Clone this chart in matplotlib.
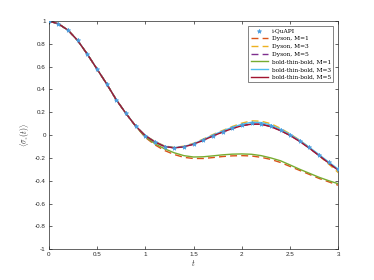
import matplotlib
matplotlib.use("Agg")
import matplotlib.pyplot as plt
import numpy as np

t = [0.0, 0.1, 0.2, 0.3, 0.4, 0.5, 0.6, 0.7, 0.8, 0.9, 1.0, 1.1, 1.2, 1.3, 1.4, 1.5,
     1.6, 1.7, 1.8, 1.9, 2.0, 2.1, 2.2, 2.3, 2.4, 2.5, 2.6, 2.7, 2.8, 2.9, 3.0]

early = [1.0, 0.976, 0.92, 0.83, 0.71, 0.58, 0.45, 0.31, 0.19, 0.08]

iquapi = early + [-0.005, -0.06, -0.10, -0.115, -0.105, -0.08, -0.045, -0.005, 0.03, 0.063,
                  0.09, 0.106, 0.10, 0.078, 0.042, 0.0, -0.05, -0.107, -0.175, -0.235, -0.30]
dyson1 = early + [-0.02, -0.085, -0.135, -0.17, -0.195, -0.205, -0.205, -0.197, -0.188, -0.182,
                  -0.18, -0.183, -0.195, -0.213, -0.24, -0.275, -0.31, -0.345, -0.38, -0.41, -0.44]
dyson3 = early + [-0.003, -0.055, -0.095, -0.108, -0.097, -0.072, -0.035, 0.005, 0.04, 0.075,
                  0.105, 0.125, 0.122, 0.10, 0.06, 0.01, -0.045, -0.11, -0.18, -0.255, -0.33]
dyson5 = early + [-0.005, -0.06, -0.10, -0.112, -0.103, -0.08, -0.045, -0.008, 0.027, 0.058,
                  0.083, 0.097, 0.096, 0.075, 0.04, -0.003, -0.055, -0.115, -0.18, -0.245, -0.31]
btb1 = early + [-0.015, -0.075, -0.12, -0.155, -0.18, -0.192, -0.19, -0.182, -0.173, -0.167,
                -0.165, -0.168, -0.18, -0.2, -0.225, -0.262, -0.30, -0.335, -0.37, -0.40, -0.427]
btb3 = early + [-0.004, -0.058, -0.098, -0.11, -0.1, -0.076, -0.04, 0.0, 0.035, 0.068,
                0.095, 0.112, 0.11, 0.088, 0.05, 0.005, -0.047, -0.108, -0.172, -0.237, -0.30]
btb5 = early + [-0.005, -0.06, -0.10, -0.112, -0.103, -0.08, -0.046, -0.008, 0.026, 0.057,
                0.082, 0.096, 0.095, 0.074, 0.039, -0.004, -0.056, -0.116, -0.18, -0.245, -0.31]

labels = ['i-QuAPI',
          'Dyson, M\u0303=1',
          'Dyson, M\u0303=3',
          'Dyson, M\u0303=5',
          'bold-thin-bold, M\u0303=1',
          'bold-thin-bold, M\u0303=3',
          'bold-thin-bold, M\u0303=5']

plt.rcParams['mathtext.fontset'] = 'cm'
plt.rcParams['font.family'] = ['Liberation Sans', 'DejaVu Sans']

fig = plt.figure(figsize=(3.74, 2.80), dpi=100)
ax = fig.add_axes([0.13, 0.11, 0.775, 0.815])

c_mk = '#4a9ee0'
ax.plot(t, iquapi, linestyle='none', marker='*', markersize=3.2, color=c_mk,
        markeredgewidth=0.5, label=labels[0], zorder=5)
ax.plot(t, dyson1, '--', color='#D95319', lw=1.0, dashes=(5, 3), label=labels[1])
ax.plot(t, dyson3, '--', color='#EDB120', lw=1.0, dashes=(5, 3), label=labels[2])
ax.plot(t, dyson5, '--', color='#7E2F8E', lw=1.0, dashes=(5, 3), label=labels[3])
ax.plot(t, btb1, '-', color='#77AC30', lw=1.0, label=labels[4])
ax.plot(t, btb3, '-', color='#4DBEEE', lw=1.0, label=labels[5])
ax.plot(t, btb5, '-', color='#A2142F', lw=1.0, label=labels[6])

ax.set_xlim(0, 3)
ax.set_ylim(-1, 1)
ax.set_xticks([0, 0.5, 1, 1.5, 2, 2.5, 3])
ax.set_xticklabels(['0', '0.5', '1', '1.5', '2', '2.5', '3'])
ax.set_yticks(np.round(np.arange(-1, 1.01, 0.2), 1))
ax.set_yticklabels(['-1', '-0.8', '-0.6', '-0.4', '-0.2', '0', '0.2', '0.4', '0.6', '0.8', '1'])

axc = '#262626'
for s in ax.spines.values():
    s.set_color(axc)
    s.set_linewidth(0.5)
ax.tick_params(direction='in', length=2, width=0.5, colors=axc, labelsize=4.5,
               top=True, right=True, pad=2)

ax.set_xlabel(r'$t$', fontsize=5.5, labelpad=1, color=axc)
ax.set_ylabel(r'$\langle\sigma_z(t)\rangle$', fontsize=5.5, labelpad=2, color=axc)

leg = ax.legend(loc='upper right', frameon=True, fancybox=False,
                prop={'family': ['DejaVu Serif'], 'size': 4.2},
                edgecolor=axc, handlelength=3.0, labelspacing=0.45, borderpad=0.4,
                handletextpad=0.6, borderaxespad=0.9)
leg.get_frame().set_linewidth(0.5)

fig.savefig('out.png', dpi=100)
